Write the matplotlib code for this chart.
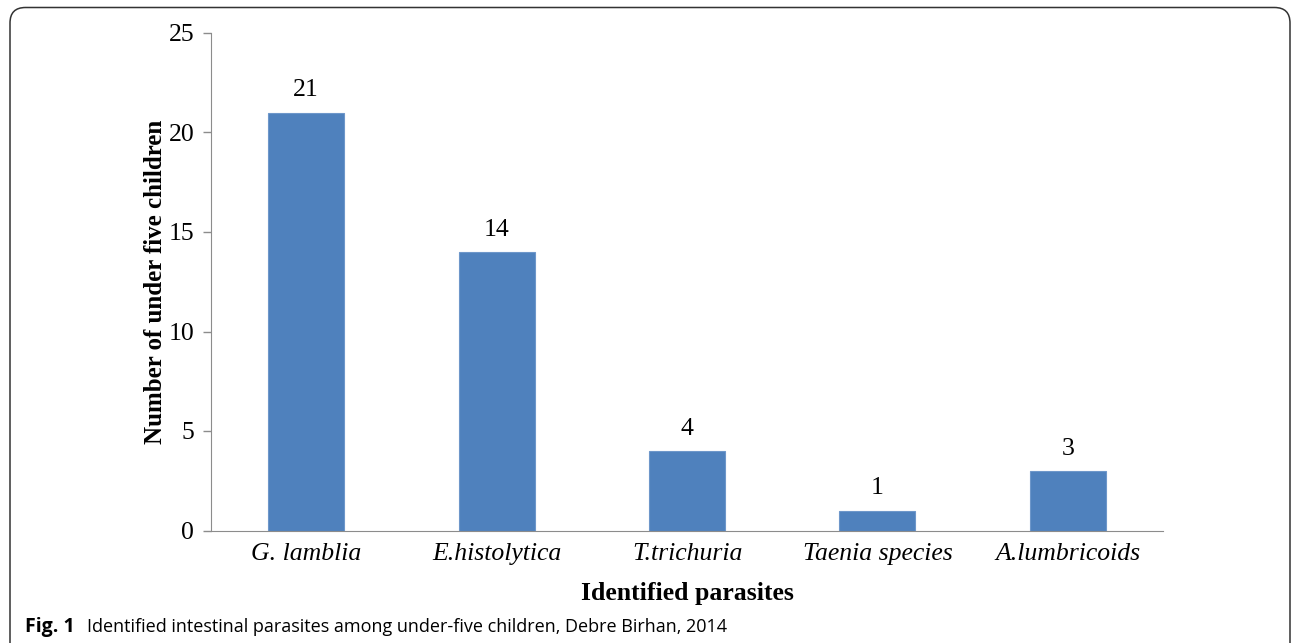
import matplotlib.pyplot as plt
from matplotlib.patches import FancyBboxPatch

# data
parasites = ['G. lamblia', 'E.histolytica', 'T.trichuria', 'Taenia species', 'A.lumbricoids']
counts = [21, 14, 4, 1, 3]
y_ticks = [0, 5, 10, 15, 20, 25]

serif = ['Liberation Serif', 'DejaVu Serif']

fig = plt.figure(figsize=(12.92, 6.43), dpi=100)
ax = fig.add_axes([211 / 1292, 1 - 530.5 / 643, 952 / 1292, 497.5 / 643])

x = range(len(parasites))
ax.bar(x, counts, width=0.4, color='#4F81BD', edgecolor='#6E97CA', linewidth=0.8)
for xi, c in zip(x, counts):
    ax.annotate(str(c), (xi, c), xytext=(0, 8), textcoords='offset points',
                ha='center', va='bottom', fontsize=18.5, family=serif)

ax.set_xlim(-0.5, len(parasites) - 0.5)
ax.set_ylim(0, 25)
ax.set_yticks(y_ticks)
ax.set_xticks(list(x))
ax.set_xticklabels(parasites, family=serif, style='italic', fontsize=18.5)
ax.set_yticklabels([str(t) for t in y_ticks], family=serif, fontsize=18.5)
ax.tick_params(axis='x', length=0, pad=9)
ax.tick_params(axis='y', length=6, width=1, color='#8C8C8C', pad=6)

for s in ['top', 'right']:
    ax.spines[s].set_visible(False)
ax.spines['left'].set_color('#8C8C8C')
ax.spines['bottom'].set_color('#8C8C8C')

ax.set_xlabel('Identified parasites', family=serif, fontweight='bold', fontsize=18.5, labelpad=12)
ax.set_ylabel('Number of under five children', family=serif, fontweight='bold', fontsize=18, labelpad=1)

# frame around the figure (open at the bottom)
frame = FancyBboxPatch((10 / 1292, -0.05), 1280 / 1292, (643 - 7.5) / 643 + 0.05,
                       boxstyle='round,pad=0,rounding_size=0.012', transform=fig.transFigure,
                       facecolor='none', edgecolor='#333333', linewidth=1.1, clip_on=False,
                       mutation_aspect=1292 / 643)
fig.patches.append(frame)

cap_font = ['Open Sans', 'DejaVu Sans']
fig.text(25 / 1292, 1 - 632 / 643, 'Fig. 1', family=cap_font, fontweight='bold',
         fontsize=14, va='baseline', ha='left')
fig.text(87 / 1292, 1 - 632 / 643,
         'Identified intestinal parasites among under-five children, Debre Birhan, 2014',
         family=cap_font, fontsize=13, va='baseline', ha='left')

fig.savefig('out.png', dpi=100)
